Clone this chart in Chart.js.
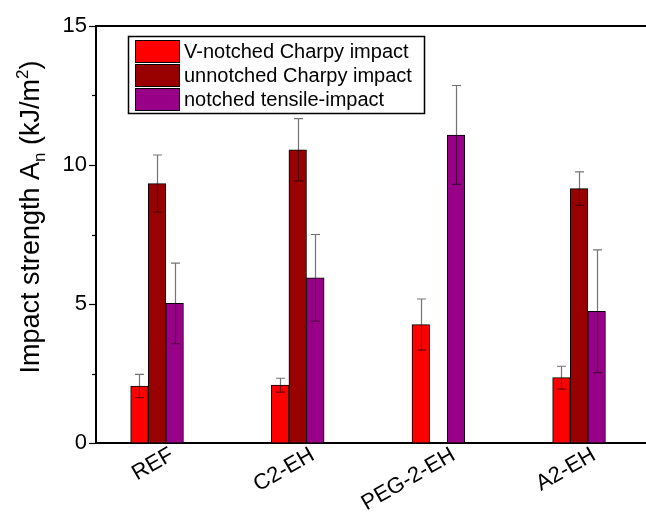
<!DOCTYPE html>
<html>
<head>
<meta charset="utf-8">
<script src="https://cdn.jsdelivr.net/npm/chart.js@4.4.0/dist/chart.umd.min.js"></script>
<style>
  html, body { margin: 0; padding: 0; background: #fff; }
</style>
</head>
<body>
<canvas id="chart" width="646" height="514"></canvas>
<script>
    'use strict'

    // samples on the x axis
    var samples = ["REF", "C2-EH", "PEG-2-EH", "A2-EH"];
    var seriesNames = ["V-notched Charpy impact", "unnotched Charpy impact", "notched tensile-impact"];

    // impact strength, kJ/m2 (mean and error)
    var vNotched = [2.05, 2.08, 4.26, 2.35];
    var vNotchedErr = [0.42, 0.25, 0.92, 0.41];
    var unnotched = [9.33, 10.55, null, 9.15];
    var unnotchedErr = [1.03, 1.12, null, 0.60];
    var tensile = [5.02, 5.94, 11.08, 4.74];
    var tensileErr = [1.45, 1.56, 1.78, 2.21];

    var yTicks = [0, 5, 10, 15];
    var yMinorTicks = [2.5, 7.5, 12.5];

    var colors = ["#FF0000", "#990000", "#990088"];
    var FONT = "'Liberation Sans', Arial, sans-serif";

    function points(values) {
        return values.map(function (v, i) { return { x: i + 1, y: v }; });
    }

    // error bars, minor ticks, top frame line, legend and the y title
    var decorPlugin = {
        id: 'decor',
        afterDatasetsDraw: function (chart) {
            var ctx = chart.ctx;
            var yScale = chart.scales.y;
            ctx.save();
            ctx.strokeStyle = 'rgba(0,0,0,0.55)';
            ctx.lineWidth = 1.2;
            chart.data.datasets.forEach(function (ds, di) {
                var meta = chart.getDatasetMeta(di);
                meta.data.forEach(function (bar, i) {
                    var v = ds.data[i].y, e = ds.errors[i];
                    if (v == null || e == null) return;
                    var x = Math.round(bar.x) + 0.5;
                    var yTop = yScale.getPixelForValue(v + e);
                    var yBot = yScale.getPixelForValue(v - e);
                    ctx.beginPath();
                    ctx.moveTo(x, yTop); ctx.lineTo(x, yBot);
                    ctx.moveTo(x - 4.5, yTop); ctx.lineTo(x + 4.5, yTop);
                    ctx.moveTo(x - 4.5, yBot); ctx.lineTo(x + 4.5, yBot);
                    ctx.stroke();
                });
            });
            ctx.restore();
        },
        afterDraw: function (chart) {
            var ctx = chart.ctx;
            var area = chart.chartArea;
            var yScale = chart.scales.y;
            ctx.save();

            // top frame line
            ctx.strokeStyle = '#000';
            ctx.lineWidth = 2;
            ctx.beginPath();
            ctx.moveTo(area.left - 1, area.top);
            ctx.lineTo(chart.width, area.top);
            ctx.stroke();

            // minor ticks
            ctx.lineWidth = 1.2;
            yMinorTicks.forEach(function (t) {
                var y = Math.round(yScale.getPixelForValue(t)) + 0.5;
                ctx.beginPath();
                ctx.moveTo(area.left - 4, y);
                ctx.lineTo(area.left, y);
                ctx.stroke();
            });

            // legend
            var lx = 128, ly = 36, lw = 296, lh = 77;
            ctx.fillStyle = '#fff';
            ctx.fillRect(lx, ly, lw, lh);
            ctx.lineWidth = 1.5;
            ctx.strokeStyle = '#000';
            ctx.strokeRect(lx + 0.5, ly + 0.5, lw, lh);
            ctx.font = '20px ' + FONT;
            ctx.textBaseline = 'middle';
            ctx.textAlign = 'left';
            chart.data.datasets.forEach(function (ds, i) {
                var sy = 40 + i * 24;
                ctx.fillStyle = ds.backgroundColor;
                ctx.fillRect(135, sy, 44, 22);
                ctx.lineWidth = 1;
                ctx.strokeRect(135.5, sy + 0.5, 44, 22);
                ctx.fillStyle = '#000';
                ctx.fillText(ds.label, 184, sy + 12);
            });

            // y axis title with subscript and superscript
            var parts = [
                { t: "Impact strength A", size: 27, dy: 0 },
                { t: "n", size: 17, dy: 6 },
                { t: " (kJ/m", size: 27, dy: 0 },
                { t: "2", size: 17, dy: -11 },
                { t: ")", size: 27, dy: 0 }
            ];
            var total = 0;
            parts.forEach(function (p) {
                ctx.font = p.size + 'px ' + FONT;
                p.w = ctx.measureText(p.t).width;
                total += p.w;
            });
            ctx.translate(39, 217);
            ctx.rotate(-Math.PI / 2);
            ctx.textBaseline = 'alphabetic';
            ctx.fillStyle = '#000';
            var px = -total / 2;
            parts.forEach(function (p) {
                ctx.font = p.size + 'px ' + FONT;
                ctx.fillText(p.t, px, p.dy);
                px += p.w;
            });
            ctx.restore();
        }
    };

    var ctx = document.getElementById('chart').getContext('2d');
    var chart = new Chart(ctx, {
        type: 'bar',
        data: {
            datasets: [{
                label: seriesNames[0],
                data: points(vNotched),
                errors: vNotchedErr,
                backgroundColor: colors[0]
            }, {
                label: seriesNames[1],
                data: points(unnotched),
                errors: unnotchedErr,
                backgroundColor: colors[1]
            }, {
                label: seriesNames[2],
                data: points(tensile),
                errors: tensileErr,
                backgroundColor: colors[2]
            }]
        },
        options: {
            responsive: false,
            animation: false,
            layout: { padding: { top: 26, right: 0, bottom: 0, left: 0 } },
            datasets: {
                bar: {
                    barThickness: 17.6,
                    borderColor: '#000',
                    borderWidth: 1,
                    grouped: true
                }
            },
            plugins: {
                legend: { display: false },
                tooltip: { enabled: false },
                title: { display: false }
            },
            scales: {
                x: {
                    type: 'linear',
                    offset: false,
                    min: 0.566,
                    max: 4.476,
                    grid: { display: false },
                    border: { display: true, color: '#000', width: 2 },
                    afterBuildTicks: function (scale) {
                        scale.ticks = samples.map(function (s, i) { return { value: i + 1 }; });
                    },
                    afterFit: function (scale) { scale.height = 71; },
                    ticks: {
                        autoSkip: false,
                        minRotation: 30,
                        maxRotation: 30,
                        padding: -9,
                        labelOffset: 15,
                        color: '#000',
                        font: { family: FONT, size: 22 },
                        callback: function (value) { return samples[Math.round(value) - 1] || ''; }
                    }
                },
                y: {
                    min: 0,
                    max: 15,
                    grid: {
                        drawOnChartArea: false,
                        drawTicks: true,
                        tickLength: 7,
                        tickWidth: 1.2,
                        color: '#000'
                    },
                    border: { display: true, color: '#000', width: 2 },
                    afterBuildTicks: function (scale) {
                        scale.ticks = yTicks.map(function (v) { return { value: v }; });
                    },
                    afterFit: function (scale) { scale.width = 96; },
                    ticks: {
                        padding: 2,
                        color: '#000',
                        font: { family: FONT, size: 22 }
                    }
                }
            }
        },
        plugins: [decorPlugin]
    });
</script>
</body>
</html>
